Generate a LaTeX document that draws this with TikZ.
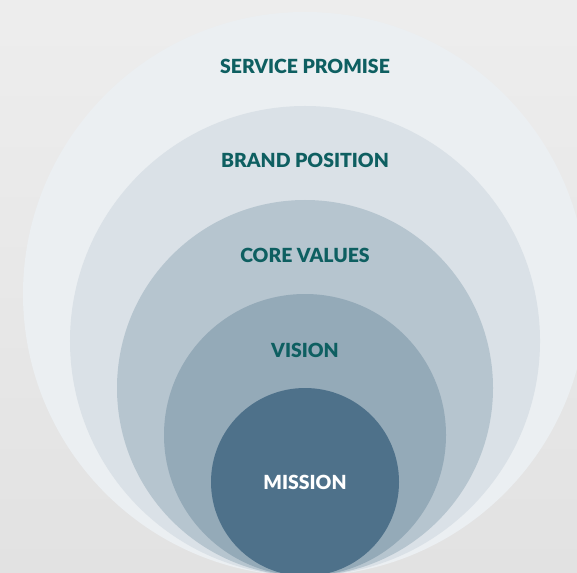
\documentclass[tikz,border=0pt]{standalone}
\usepackage{fontspec}
\setmainfont{Lato}
\newfontfamily\tagfont{Lato Black}
\usepackage{tikz}

\definecolor{bgGray}{HTML}{E9E9E9}
\definecolor{promiseFill}{HTML}{EBEFF2}
\definecolor{brandFill}{HTML}{DAE1E7}
\definecolor{coreFill}{HTML}{B6C5CF}
\definecolor{visionFill}{HTML}{94AAB8}
\definecolor{missionFill}{HTML}{4E718A}
\definecolor{labelTeal}{HTML}{0E5F61}

\tikzset{
  ring/.style={circle, inner sep=0pt, outer sep=0pt},
  tag/.style={font=\tagfont\fontsize{19.5}{21}\selectfont, text=labelTeal}
}

\begin{document}
\begin{tikzpicture}[x=1bp, y=-1bp]
\useasboundingbox (0,0) rectangle (577,573);
\shade[top color=bgGray!80!white, bottom color=bgGray!97!black] (0,0) rectangle (577,573);

\begin{scope}
\clip (0,0) rectangle (577,573);
\node[ring, fill=promiseFill, minimum size=564bp] (promise) at (305,294) {};
\node[ring, fill=brandFill, minimum size=470bp] (brand) at (305,341) {};
\node[ring, fill=coreFill, minimum size=376bp] (core) at (305,388) {};
\node[ring, fill=visionFill, minimum size=282bp] (vision) at (305,435) {};
\node[ring, fill=missionFill, minimum size=188bp] (mission) at (305,482) {};
\end{scope}

\node[tag] (promiseText) at (305,66) {SERVICE PROMISE};
\node[tag] (brandText) at (305,160) {BRAND POSITION};
\node[tag] (coreText) at (305,255) {CORE VALUES};
\node[tag] (visionText) at (305,350) {VISION};
\node[tag, text=white] (missionText) at (305,482) {MISSION};
\end{tikzpicture}
\end{document}
